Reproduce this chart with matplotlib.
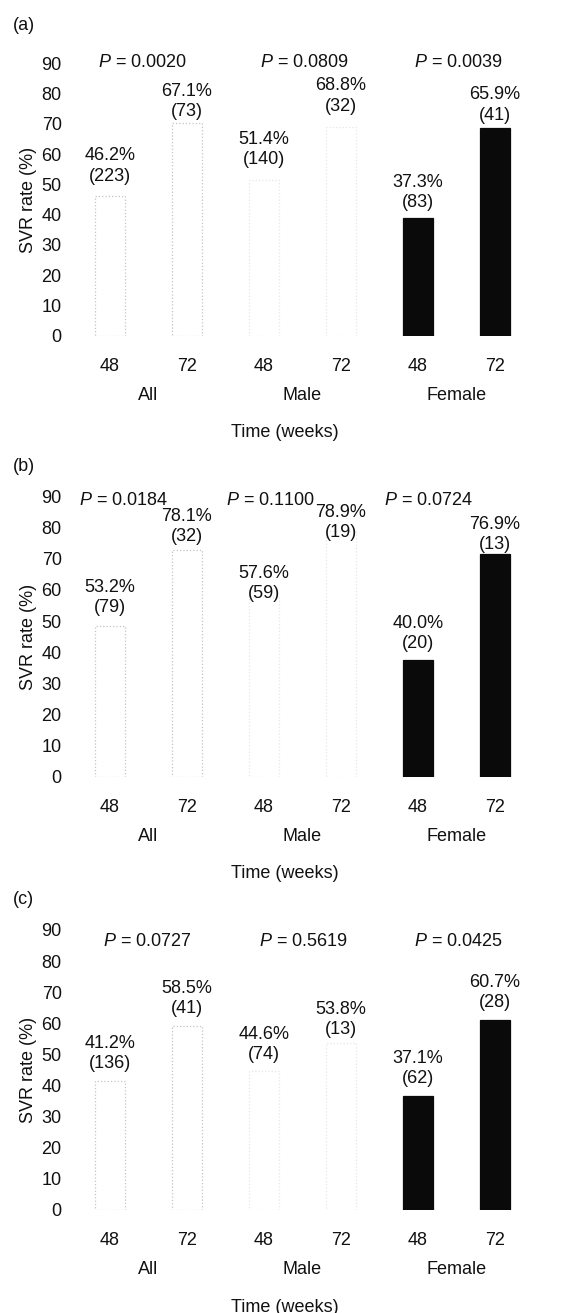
import matplotlib
matplotlib.use('Agg')
import matplotlib.pyplot as plt

plt.rcParams['font.family'] = ['Liberation Sans', 'DejaVu Sans']
plt.rcParams['mathtext.fontset'] = 'custom'
plt.rcParams['mathtext.it'] = 'Liberation Sans:italic'
plt.rcParams['mathtext.rm'] = 'Liberation Sans'

# categories
groups = ['All', 'Male', 'Female']
weeks = ['48', '72', '48', '72', '48', '72']
panels = ['(a)', '(b)', '(c)']

# panel (a)
rates_a = [46.2, 67.1, 51.4, 68.8, 37.3, 65.9]
n_a = [223, 73, 140, 32, 83, 41]
bars_a = [46.2, 70.4, 51.4, 68.8, 38.8, 68.6]   # bar heights as drawn in the figure
p_a = ['0.0020', '0.0809', '0.0039']

# panel (b)
rates_b = [53.2, 78.1, 57.6, 78.9, 40.0, 76.9]
n_b = [79, 32, 59, 19, 20, 13]
bars_b = [48.5, 72.9, 57.6, 78.9, 37.4, 71.6]
p_b = ['0.0184', '0.1100', '0.0724']

# panel (c)
rates_c = [41.2, 58.5, 44.6, 53.8, 37.1, 60.7]
n_c = [136, 41, 74, 13, 62, 28]
bars_c = [41.5, 59.1, 44.6, 53.8, 36.6, 61.2]
p_c = ['0.0727', '0.5619', '0.0425']

# where the value labels / P labels sit (data units)
lab_y = [[56.1, 77.3, 61.6, 79.2, 47.2, 76.2],
         [57.5, 80.3, 62.1, 81.8, 46.0, 77.9],
         [50.4, 67.9, 53.3, 61.2, 45.6, 69.8]]
p_y = [90.4, 88.8, 86.2]
p_x = [[0.42, 2.52, 4.53], [0.17, 2.08, 4.14], [0.48, 2.51, 4.52]]

data = [(rates_a, n_a, bars_a, p_a), (rates_b, n_b, bars_b, p_b), (rates_c, n_c, bars_c, p_c)]

W, H = 573, 1313
fig = plt.figure(figsize=(W / 100, H / 100), dpi=100)
fig.patch.set_facecolor('white')

# axis rectangles in pixels: (y of zero line, y of 90 line)
ax_px = [(1007 / 3, 190 / 3), (1040 / 3 + 430, 200 / 3 + 430), (1050 / 3 + 860, 210 / 3 + 860)]
left_px, right_px = 70, 545
x0_px, dx_px = 110, 77

fs = 13
col = '#111111'
pos = list(range(6))

for k, (rates, ns, bars, pv) in enumerate(data):
    y0, y90 = ax_px[k]
    ax = fig.add_axes([left_px / W, 1 - y0 / H, (right_px - left_px) / W, (y0 - y90) / H])
    ax.set_xlim((left_px - x0_px) / dx_px, (right_px - x0_px) / dx_px)
    ax.set_ylim(0, 90)
    ax.patch.set_alpha(0)
    for s in ax.spines.values():
        s.set_visible(False)

    colors = ['white', 'white', 'white', 'white', '#0a0a0a', '#0a0a0a']
    edges = ['#c4c4c4', '#c4c4c4', '#e6e6e6', '#e6e6e6', '#0a0a0a', '#0a0a0a']
    styles = [':', ':', ':', ':', '-', '-']
    for i in pos:
        ax.bar(i, bars[i], width=0.4, color=colors[i], edgecolor=edges[i],
               linestyle=styles[i], linewidth=0.9)
        ax.text(i, lab_y[k][i], f'{rates[i]:.1f}%\n({ns[i]})', ha='center', va='center',
                fontsize=fs, color=col, linespacing=1.25)

    for g in range(3):
        ax.text(p_x[k][g], p_y[k], f'$P$ = {pv[g]}', ha='center', va='center',
                fontsize=fs, color=col)
        ax.annotate(groups[g], xy=(2 * g + 0.5, 0), xycoords=('data', 'axes fraction'),
                    xytext=(0, -60 * 0.72), textcoords='offset points',
                    ha='center', va='center', fontsize=fs, color=col)

    ax.set_yticks(range(0, 91, 10))
    ax.set_xticks(pos)
    ax.set_xticklabels(weeks)
    ax.tick_params(axis='y', length=0, pad=6, labelsize=fs, labelcolor=col)
    ax.tick_params(axis='x', length=0, pad=16, labelsize=fs, labelcolor=col)
    ax.set_ylabel('SVR rate (%)', fontsize=fs, color=col, labelpad=3)

    ax.annotate('Time (weeks)', xy=(2.27, 0), xycoords=('data', 'axes fraction'),
                xytext=(0, -97 * 0.72), textcoords='offset points',
                ha='center', va='center', fontsize=fs, color=col)
    ax.annotate(panels[k], xy=(0, 0), xycoords='axes fraction',
                xytext=((13 - left_px) * 0.72, 310 * 0.72), textcoords='offset points',
                ha='left', va='center', fontsize=fs, color=col)

fig.savefig('out.png', dpi=100, facecolor='white')
